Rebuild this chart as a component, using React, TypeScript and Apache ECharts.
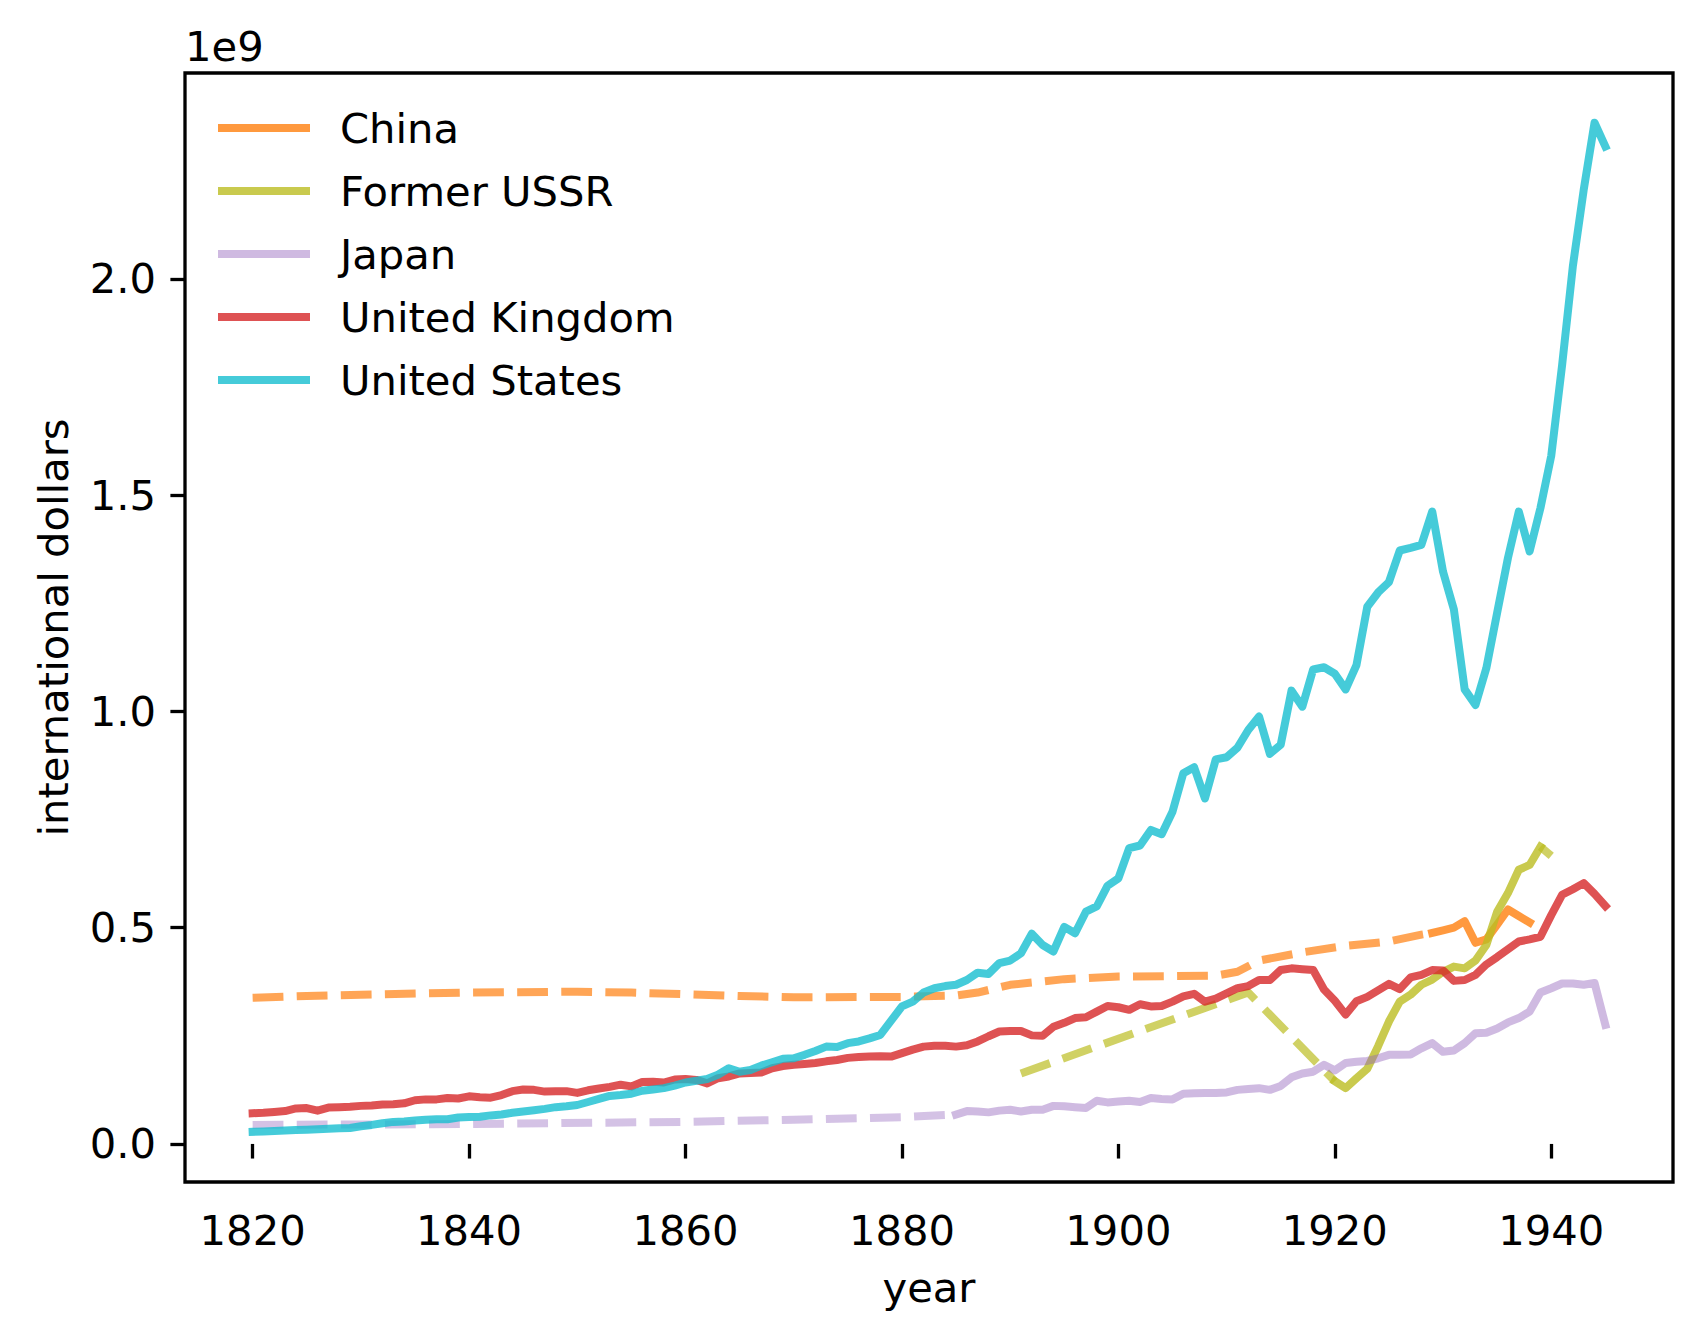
import React, { useEffect, useRef } from "react";
import * as echarts from "echarts";

// values are in units of 1e9 international dollars
const yearTicks = [1820, 1840, 1860, 1880, 1900, 1920, 1940];
const valueTicks = [0, 0.5, 1, 1.5, 2];

const usFirstYear = 1820;
const usValues = [
  0.028, 0.029, 0.030, 0.031, 0.032, 0.033, 0.034, 0.035, 0.036, 0.037,
  0.041, 0.044, 0.048, 0.051, 0.052, 0.054, 0.056, 0.057, 0.057, 0.061,
  0.062, 0.063, 0.066, 0.068, 0.072, 0.075, 0.078, 0.081, 0.085, 0.087,
  0.090, 0.097, 0.104, 0.111, 0.113, 0.116, 0.123, 0.126, 0.129, 0.135,
  0.142, 0.146, 0.150, 0.160, 0.175, 0.167, 0.171, 0.181, 0.189, 0.197,
  0.198, 0.206, 0.215, 0.225, 0.224, 0.233, 0.237, 0.244, 0.252, 0.285,
  0.318, 0.329, 0.350, 0.360, 0.365, 0.368, 0.379, 0.396, 0.393, 0.418,
  0.424, 0.441, 0.486, 0.460, 0.445, 0.502, 0.487, 0.537, 0.549, 0.597,
  0.614, 0.684, 0.690, 0.726, 0.716, 0.768, 0.857, 0.871, 0.799, 0.889,
  0.894, 0.916, 0.957, 0.988, 0.902, 0.923, 1.048, 1.011, 1.097, 1.102,
  1.087, 1.051, 1.107, 1.242, 1.275, 1.299, 1.372, 1.378, 1.385, 1.462,
  1.323, 1.236, 1.051, 1.015, 1.100, 1.228, 1.355, 1.462, 1.370, 1.470,
  1.591, 1.800, 2.030, 2.206, 2.361, 2.306,
];

const ukFirstYear = 1820;
const ukValues = [
  0.071, 0.072, 0.074, 0.076, 0.082, 0.083, 0.077, 0.084, 0.085, 0.086,
  0.088, 0.089, 0.091, 0.092, 0.094, 0.101, 0.103, 0.103, 0.106, 0.105,
  0.110, 0.108, 0.107, 0.113, 0.122, 0.126, 0.125, 0.121, 0.122, 0.122,
  0.118, 0.124, 0.128, 0.132, 0.137, 0.133, 0.143, 0.144, 0.142, 0.149,
  0.150, 0.148, 0.140, 0.152, 0.156, 0.163, 0.164, 0.165, 0.175, 0.180,
  0.183, 0.185, 0.187, 0.191, 0.194, 0.199, 0.201, 0.202, 0.203, 0.202,
  0.210, 0.218, 0.225, 0.227, 0.227, 0.225, 0.228, 0.237, 0.249, 0.260,
  0.261, 0.261, 0.251, 0.250, 0.271, 0.280, 0.291, 0.293, 0.306, 0.319,
  0.316, 0.310, 0.323, 0.318, 0.319, 0.329, 0.341, 0.347, 0.329, 0.336,
  0.348, 0.360, 0.365, 0.379, 0.379, 0.402, 0.406, 0.404, 0.402, 0.357,
  0.331, 0.299, 0.330, 0.340, 0.355, 0.370, 0.358, 0.385, 0.391, 0.402,
  0.401, 0.377, 0.379, 0.391, 0.415, 0.432, 0.450, 0.468, 0.473, 0.479,
  0.529, 0.576, 0.589, 0.603, 0.578, 0.550,
];

// sparse benchmark years (drawn dashed)
const japanEstYears = [1820, 1840, 1860, 1870, 1880, 1885];
const japanEstValues = [0.044, 0.046, 0.051, 0.056, 0.062, 0.068];
const japanFirstYear = 1885;
const japanValues = [
  0.068, 0.076, 0.075, 0.073, 0.077,
  0.079, 0.075, 0.079, 0.079, 0.088, 0.087, 0.085, 0.083, 0.100, 0.096,
  0.098, 0.100, 0.097, 0.106, 0.104, 0.103, 0.116, 0.117, 0.118, 0.118,
  0.119, 0.125, 0.127, 0.129, 0.125, 0.134, 0.154, 0.163, 0.167, 0.183,
  0.170, 0.187, 0.190, 0.192, 0.198, 0.206, 0.206, 0.207, 0.221, 0.233,
  0.213, 0.216, 0.233, 0.256, 0.257, 0.267, 0.281, 0.291, 0.306, 0.350,
  0.360, 0.371, 0.371, 0.368, 0.372, 0.275,
];

const chinaEstYears = [
  1820, 1825, 1830, 1840, 1850, 1855, 1860, 1865, 1870, 1880, 1885, 1887,
  1890, 1895, 1900, 1905, 1909, 1911, 1913, 1917, 1921, 1925, 1928, 1929,
];
const chinaEstValues = [
  0.338, 0.342, 0.345, 0.350, 0.352, 0.350, 0.346, 0.342, 0.339, 0.340, 0.343, 0.350,
  0.368, 0.381, 0.387, 0.388, 0.389, 0.398, 0.424, 0.443, 0.458, 0.468, 0.484, 0.488,
];
const chinaFirstYear = 1929;
const chinaValues = [0.488, 0.494, 0.500, 0.515, 0.465, 0.473, 0.507, 0.542, 0.527, 0.512];

const ussrEstYears = [1891, 1912, 1920];
const ussrEstValues = [0.163, 0.350, 0.145];
const ussrFirstYear = 1920;
const ussrValues = [
  0.145, 0.129, 0.152, 0.174, 0.226, 0.283, 0.329, 0.345, 0.368, 0.380,
  0.398, 0.410, 0.406, 0.424, 0.460, 0.537, 0.580, 0.634, 0.645, 0.687,
];
const ussrTailYears = [1939, 1940];
const ussrTailValues = [0.687, 0.666];

const FONT = "DejaVu Sans";
const FS = 41.7;
const LW = 8;
const DASH = [30.8, 13.3];

const colors = {
  china: "rgba(255,127,14,0.8)",
  chinaEst: "rgba(255,127,14,0.7)",
  ussr: "rgba(188,189,34,0.8)",
  ussrEst: "rgba(188,189,34,0.7)",
  japan: "rgba(148,103,189,0.45)",
  japanEst: "rgba(148,103,189,0.4)",
  uk: "rgba(214,39,40,0.8)",
  us: "rgba(23,190,207,0.8)",
};

const annual = (first: number, values: number[]) => values.map((v, i) => [first + i, v]);
const pairs = (years: number[], values: number[]) => years.map((y, i) => [y, values[i]]);

const solid = (name: string, color: string, data: number[][]) => ({
  name,
  type: "line",
  data,
  symbol: "none",
  silent: true,
  itemStyle: { color },
  lineStyle: { color, width: LW, cap: "square", join: "round" },
});

const dashed = (name: string, color: string, data: number[][]) => ({
  name,
  type: "line",
  data,
  symbol: "none",
  silent: true,
  itemStyle: { color },
  lineStyle: { color, width: LW, type: DASH, cap: "butt", join: "round" },
});

const App = () => {
  const chartRef = useRef<HTMLDivElement>(null);

  useEffect(() => {
    const chart = echarts.init(chartRef.current, null, { renderer: "svg" });

    const textStyle = { fontFamily: FONT, fontSize: FS, color: "#000" };

    const option = {
      animation: false,
      backgroundColor: "#fff",
      grid: {
        left: 185,
        top: 73,
        right: 29,
        bottom: 160,
        show: true,
        borderColor: "#000",
        borderWidth: 3.3,
      },
      legend: {
        orient: "vertical",
        left: 218,
        top: 103,
        padding: 0,
        itemGap: 13,
        icon: "rect",
        itemWidth: 92,
        itemHeight: 8,
        selectedMode: false,
        textStyle: { ...textStyle, lineHeight: 50, padding: [0, 0, 0, 25] },
        data: [
          { name: "China", itemStyle: { color: colors.china, borderWidth: 0 } },
          { name: "Former USSR", itemStyle: { color: colors.ussr, borderWidth: 0 } },
          { name: "Japan", itemStyle: { color: colors.japan, borderWidth: 0 } },
          { name: "United Kingdom", itemStyle: { color: colors.uk, borderWidth: 0 } },
          { name: "United States", itemStyle: { color: colors.us, borderWidth: 0 } },
        ],
      },
      xAxis: {
        type: "value",
        min: 1813.75,
        max: 1951.25,
        name: "year",
        nameLocation: "middle",
        nameGap: 84,
        nameTextStyle: { ...textStyle, lineHeight: 42 },
        axisLine: { show: false },
        splitLine: { show: false },
        axisTick: {
          show: true,
          length: 14.6,
          lineStyle: { color: "#000", width: 3.3 },
          customValues: yearTicks,
        },
        axisLabel: {
          ...textStyle,
          lineHeight: 42,
          margin: 27,
          customValues: yearTicks,
          formatter: (v: number) => String(v),
        },
      },
      yAxis: {
        type: "value",
        min: -0.088,
        max: 2.476,
        name: "international dollars",
        nameLocation: "middle",
        nameGap: 111,
        nameRotate: 90,
        nameTextStyle: { ...textStyle, lineHeight: 42 },
        axisLine: { show: false },
        splitLine: { show: false },
        axisTick: {
          show: true,
          length: 14.6,
          lineStyle: { color: "#000", width: 3.3 },
          customValues: valueTicks,
        },
        axisLabel: {
          ...textStyle,
          margin: 29,
          customValues: valueTicks,
          formatter: (v: number) => v.toFixed(1),
        },
      },
      graphic: [
        {
          type: "text",
          x: 185,
          y: 46,
          style: {
            text: "1e9",
            fontFamily: FONT,
            fontSize: FS,
            fill: "#000",
            align: "left",
            verticalAlign: "middle",
          },
        },
      ],
      series: [
        dashed("China", colors.chinaEst, pairs(chinaEstYears, chinaEstValues)),
        solid("China", colors.china, annual(chinaFirstYear, chinaValues)),
        dashed("Former USSR", colors.ussrEst, pairs(ussrEstYears, ussrEstValues)),
        solid("Former USSR", colors.ussr, annual(ussrFirstYear, ussrValues)),
        dashed("Former USSR", colors.ussrEst, pairs(ussrTailYears, ussrTailValues)),
        dashed("Japan", colors.japanEst, pairs(japanEstYears, japanEstValues)),
        solid("Japan", colors.japan, annual(japanFirstYear, japanValues)),
        solid("United Kingdom", colors.uk, annual(ukFirstYear, ukValues)),
        solid("United States", colors.us, annual(usFirstYear, usValues)),
      ],
    };

    chart.setOption(option);

    return () => {
      chart.dispose();
    };
  }, []);

  return (
    <div
      ref={chartRef}
      style={{ position: "absolute", left: 0, top: 0, width: 1702, height: 1342, background: "#fff" }}
    />
  );
};

export default App;
